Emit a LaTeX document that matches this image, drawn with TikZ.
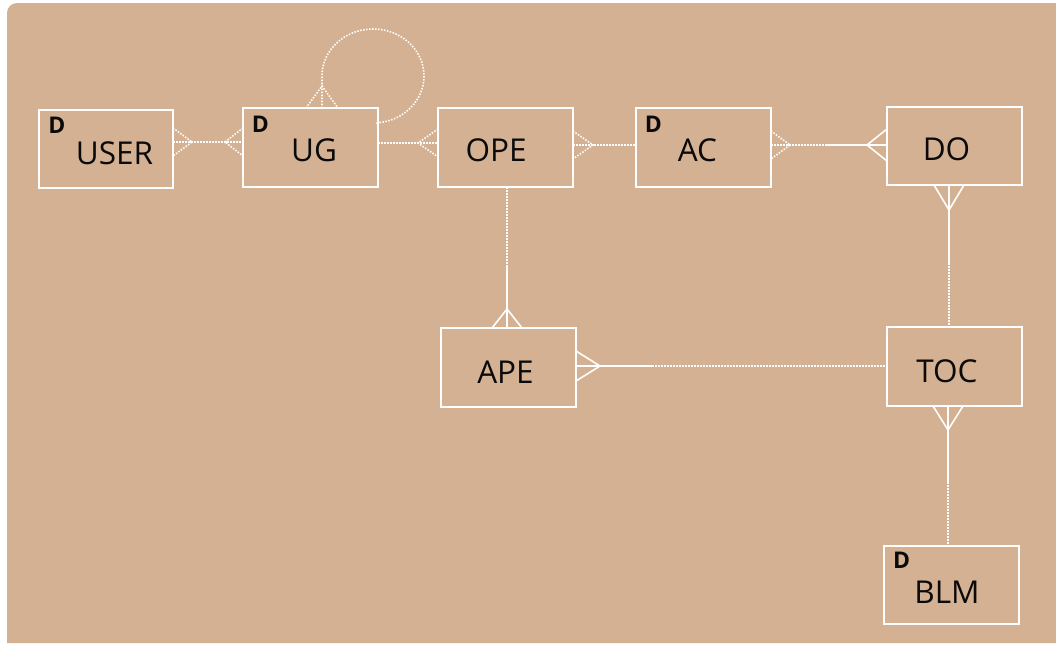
\documentclass[tikz,border=0pt]{standalone}
\usepackage{fontspec}
\setmainfont{Open Sans}
\usetikzlibrary{calc}
\definecolor{bgtan}{RGB}{212,177,146}
\definecolor{ink}{RGB}{10,10,10}
\tikzset{
  ent/.style={draw=white, line width=2.2pt, minimum width=134pt, minimum height=78pt, inner sep=0pt, outer sep=0pt},
  lbl/.style={font=\fontsize{31.5}{31.5}\selectfont, text=ink, inner sep=0pt},
  dmark/.style={font=\bfseries\fontsize{23}{23}\selectfont, text=ink, inner sep=0pt},
  rel/.style={draw=white, line width=1.6pt},
  opt/.style={rel, dash pattern=on 1.5pt off 1.5pt},
}
\newcommand\crowh[4]{% style, edge coordinate, apex dx, half spread
  \draw[#1] ($(#2)+(0,-#4)$) -- ($(#2)+(#3,0)$) -- ($(#2)+(0,#4)$);}
\newcommand\crowv[4]{% style, edge coordinate, apex dy, half spread
  \draw[#1] ($(#2)+(-#4,0)$) -- ($(#2)+(0,#3)$) -- ($(#2)+(#4,0)$);}
\begin{document}
\begin{tikzpicture}[x=1pt,y=-1pt]
\useasboundingbox (0,0) rectangle (1056,645);
\fill[white] (0,0) rectangle (1056,645);
\fill[bgtan] (1056,643) -- (7,643) [rounded corners=10pt] -- (7,3) [sharp corners] -- (1056,3) -- cycle;

% entities
\node[ent] (USER) at (106,149) {};
\node[ent, minimum width=135pt, minimum height=79pt] (UG) at (310.5,147.5) {};
\node[ent, minimum width=135pt, minimum height=79pt] (OPE) at (505.5,147.5) {};
\node[ent, minimum width=135pt, minimum height=79pt] (AC) at (703.5,147.5) {};
\node[ent, minimum width=135pt] (DO) at (954.5,146) {};
\node[ent, minimum width=135pt, minimum height=79pt] (APE) at (508.5,367.5) {};
\node[ent, minimum width=135pt, minimum height=79pt] (TOC) at (954.5,366.5) {};
\node[ent, minimum width=135pt] (BLM) at (951.5,585) {};

% labels
\node[lbl] (USERt) at (114.5,153.5) {USER};
\node[lbl] (UGt) at (314,150.5) {UG};
\node[lbl] (OPEt) at (496,150) {OPE};
\node[lbl] (ACt) at (697.5,150) {AC};
\node[lbl] (DOt) at (946.5,149) {DO};
\node[lbl] (APEt) at (505.5,372) {APE};
\node[lbl] (TOCt) at (947,371) {TOC};
\node[lbl] (BLMt) at (947,592.5) {BLM};
\node[dmark] (USERd) at (57,125) {D};
\node[dmark] (UGd) at (260.5,124) {D};
\node[dmark] (ACd) at (653.5,124) {D};
\node[dmark] (BLMd) at (901.5,560) {D};

% USER -- UG
\coordinate (e1) at (USER.east |- 0,142);
\coordinate (e2) at (UG.west |- 0,142);
\draw[opt] (e1) -- (e2);
\crowh{opt}{e1}{19}{14}
\crowh{opt}{e2}{-18}{14}

% UG self relation
\coordinate (e17) at (UG.north -| 322,0);
\coordinate (e18) at (UG.east |- 0,122);
\crowv{opt}{e17}{-22}{16}
\draw[opt] (e17) -- (322,76) arc[start angle=180, end angle=445, x radius=51, y radius=47] -- (e18);

% UG -- OPE
\coordinate (e3) at (UG.east |- 0,143);
\coordinate (e4) at (OPE.west |- 0,143);
\draw[opt] (e3) -- (e4);
\crowh{opt}{e4}{-20}{14}

% OPE -- AC
\coordinate (e5) at (OPE.east |- 0,145);
\coordinate (e6) at (AC.west |- 0,145);
\draw[opt] (e5) -- (e6);
\crowh{opt}{e5}{20}{14}

% AC -- DO
\coordinate (e7) at (AC.east |- 0,145);
\coordinate (e8) at (DO.west |- 0,145);
\coordinate (m1) at ($(e8)+(-62,0)$);
\draw[opt] (e7) -- (m1);
\draw[rel] (m1) -- (e8);
\crowh{opt}{e7}{19}{14}
\crowh{rel}{e8}{-20}{16}

% OPE -- APE
\coordinate (e9) at (OPE.south -| 507,0);
\coordinate (e10) at (APE.north -| 507,0);
\coordinate (m2) at ($(e10)+(0,-63)$);
\draw[opt] (e9) -- (m2);
\draw[rel] (m2) -- (e10);
\crowv{rel}{e10}{-19}{15}

% APE -- TOC
\coordinate (e11) at (APE.east |- 0,366);
\coordinate (e12) at (TOC.west |- 0,366);
\coordinate (m3) at ($(e11)+(76,0)$);
\draw[rel] (e11) -- (m3);
\draw[opt] (m3) -- (e12);
\crowh{rel}{e11}{24}{15}

% DO -- TOC
\coordinate (e13) at (DO.south -| 949,0);
\coordinate (e14) at (TOC.north -| 949,0);
\coordinate (m4) at ($(e13)+(0,78)$);
\draw[rel] (e13) -- (m4);
\draw[opt] (m4) -- (e14);
\crowv{rel}{e13}{25}{15}

% TOC -- BLM
\coordinate (e15) at (TOC.south -| 948,0);
\coordinate (e16) at (BLM.north -| 948,0);
\coordinate (m5) at ($(e15)+(0,76)$);
\draw[rel] (e15) -- (m5);
\draw[opt] (m5) -- (e16);
\crowv{rel}{e15}{24}{15}
\end{tikzpicture}
\end{document}
